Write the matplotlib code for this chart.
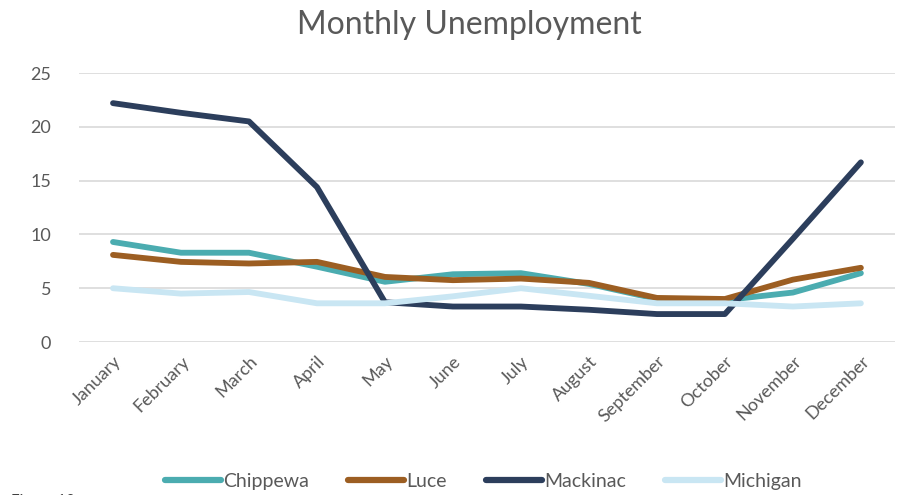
import matplotlib
matplotlib.use("Agg")
import matplotlib.pyplot as plt

plt.rcParams['font.family'] = ['Lato', 'DejaVu Sans']

months = ["January", "February", "March", "April", "May", "June",
          "July", "August", "September", "October", "November", "December"]

chippewa = [9.3, 8.3, 8.3, 7.0, 5.6, 6.3, 6.4, 5.4, 4.0, 3.9, 4.6, 6.4]
luce     = [8.1, 7.45, 7.3, 7.45, 6.05, 5.75, 5.9, 5.5, 4.1, 4.0, 5.8, 6.9]
mackinac = [22.2, 21.3, 20.5, 14.4, 3.7, 3.3, 3.3, 3.0, 2.6, 2.6, 9.6, 16.7]
michigan = [5.0, 4.5, 4.65, 3.6, 3.6, 4.25, 5.0, 4.3, 3.6, 3.6, 3.3, 3.6]

series = [("Chippewa", chippewa, "#4BACB0"),
          ("Luce", luce, "#9C5E22"),
          ("Mackinac", mackinac, "#2C3E5C"),
          ("Michigan", michigan, "#C9E6F3")]

y_ticks = [0, 5, 10, 15, 20, 25]

fig = plt.figure(figsize=(9.03, 4.95), dpi=100)
ax = fig.add_axes([0.0875, 0.309, 0.9035, 0.5435])

x = list(range(len(months)))
for z, (name, vals, color) in enumerate(series):
    ax.plot(x, vals, color=color, linewidth=4.2, label=name,
            solid_capstyle='round', solid_joinstyle='round', zorder=3 + z)

ax.set_xlim(-0.5, len(months) - 0.5)
ax.set_ylim(0, 25)
ax.set_yticks(y_ticks)
ax.set_xticks(x)
ax.set_xticklabels(months, rotation=45, ha='right', rotation_mode='anchor')
ax.tick_params(axis='both', length=0, labelsize=13, colors='#595959')
ax.tick_params(axis='y', pad=20)
ax.tick_params(axis='x', pad=8)
ax.grid(axis='y', color='#D9D9D9', linewidth=1.2)
ax.set_axisbelow(True)
for s in ax.spines.values():
    s.set_visible(False)

fig.text(0.52, 0.95, "Monthly Unemployment", ha='center', va='center',
         fontsize=23, color='#595959')

leg = fig.legend(loc='center', bbox_to_anchor=(0.535, 0.028), ncol=4,
                 frameon=False, fontsize=14, handlelength=2.9,
                 handletextpad=0.1, columnspacing=2.0)
for line in leg.get_lines():
    line.set_linewidth(4.5)
for t in leg.get_texts():
    t.set_color('#595959')

fig.text(0.012, -0.012, "Figure 10", ha='left', va='center', fontsize=11,
         color='#404040')

fig.savefig("out.png", dpi=100, facecolor='white')
